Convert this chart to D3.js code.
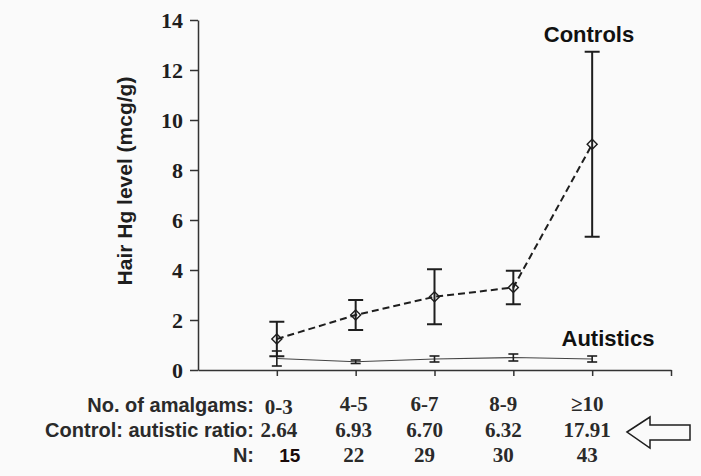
<!DOCTYPE html>
<html>
<head>
<meta charset="utf-8">
<script src="https://cdn.jsdelivr.net/npm/d3@7"></script>
<style>
  body { margin: 0; background: #fafafa; }
  svg { display: block; }
</style>
</head>
<body>
<svg id="chart"></svg>
<script>
// values
const categories = ["0-3", "4-5", "6-7", "8-9", "≥10"];
const controlMean = [1.24, 2.2, 2.93, 3.3, 9.03];
const controlErr = [0.69, 0.6, 1.1, 0.67, 3.7];
const autisticMean = [0.46, 0.33, 0.44, 0.5, 0.44];
const autisticErr = [0.3, 0.07, 0.12, 0.14, 0.12];
const ratios = ["2.64", "6.93", "6.70", "6.32", "17.91"];
const nValues = [15, 22, 29, 30, 43];
const yTicks = [0, 2, 4, 6, 8, 10, 12, 14];

const width = 701, height = 476;
const margin = { top: 20, right: 30, bottom: 106, left: 198 };
const ink = "#1e1e1e";

const svg = d3.select("#chart").attr("width", width).attr("height", height);

const x = d3.scaleLinear().domain([0, 6]).range([margin.left, width - margin.right]);
const y = d3.scaleLinear().domain([0, 14]).range([height - margin.bottom, margin.top]);

// axes
const yAxis = svg.append("g")
  .attr("transform", `translate(${margin.left},0)`)
  .call(d3.axisLeft(y).tickValues(yTicks).tickSize(8).tickSizeOuter(0).tickPadding(7));
yAxis.selectAll("text")
  .style("font-family", "'Liberation Serif', 'Times New Roman', serif")
  .style("font-weight", "bold")
  .style("font-size", "22px")
  .attr("dy", "0.36em")
  .attr("fill", ink);

const xAxis = svg.append("g")
  .attr("transform", `translate(0,${y(0)})`)
  .call(d3.axisBottom(x).tickValues([1, 2, 3, 4, 5, 6]).tickFormat("").tickSize(6).tickSizeOuter(0));

svg.selectAll(".domain, .tick line").attr("stroke", "#333").attr("stroke-width", 1.5);

svg.append("text")
  .attr("transform", `translate(132,${(y(0) + y(14)) / 2 - 14}) rotate(-90)`)
  .attr("text-anchor", "middle")
  .style("font-family", "'Liberation Sans', Arial, sans-serif")
  .style("font-weight", "bold")
  .style("font-size", "21px")
  .attr("fill", ink)
  .text("Hair Hg level (mcg/g)");

const idx = categories.map((c, i) => i + 1);

// autistics: thin solid line + small error bars
svg.append("path")
  .datum(idx)
  .attr("fill", "none")
  .attr("stroke", "#444")
  .attr("stroke-width", 1.2)
  .attr("d", d3.line().x(d => x(d)).y((d, i) => y(autisticMean[i])));

function errorBars(g, means, errs, capHalf, sw) {
  const bars = g.selectAll("g").data(idx).join("g");
  bars.append("line")
    .attr("x1", d => x(d)).attr("x2", d => x(d))
    .attr("y1", (d, i) => y(means[i] + errs[i]))
    .attr("y2", (d, i) => y(means[i] - errs[i]));
  bars.append("line")
    .attr("x1", d => x(d) - capHalf).attr("x2", d => x(d) + capHalf)
    .attr("y1", (d, i) => y(means[i] + errs[i]))
    .attr("y2", (d, i) => y(means[i] + errs[i]));
  bars.append("line")
    .attr("x1", d => x(d) - capHalf).attr("x2", d => x(d) + capHalf)
    .attr("y1", (d, i) => y(means[i] - errs[i]))
    .attr("y2", (d, i) => y(means[i] - errs[i]));
  g.attr("stroke", ink).attr("stroke-width", sw);
}

errorBars(svg.append("g"), autisticMean, autisticErr, 5, 1.6);

// controls: dashed line, open diamonds, error bars
svg.append("path")
  .datum(idx)
  .attr("fill", "none")
  .attr("stroke", ink)
  .attr("stroke-width", 2)
  .attr("stroke-dasharray", "7,4")
  .attr("d", d3.line().x(d => x(d)).y((d, i) => y(controlMean[i])));

errorBars(svg.append("g"), controlMean, controlErr, 7.5, 2);

svg.append("g").selectAll("path")
  .data(idx)
  .join("path")
  .attr("d", d3.symbol(d3.symbolSquare, 50))
  .attr("transform", (d, i) => `translate(${x(d)},${y(controlMean[i])}) rotate(45)`)
  .attr("fill", "none")
  .attr("stroke", ink)
  .attr("stroke-width", 1.4);

// series labels
const sans = "'Liberation Sans', Arial, sans-serif";
const serif = "'Liberation Serif', 'Times New Roman', serif";
svg.append("text").attr("x", 589).attr("y", 42).attr("text-anchor", "middle")
  .style("font-family", sans).style("font-weight", "bold").style("font-size", "22px")
  .attr("fill", "#111").text("Controls");
svg.append("text").attr("x", 608).attr("y", 346).attr("text-anchor", "middle")
  .style("font-family", sans).style("font-weight", "bold").style("font-size", "22px")
  .attr("fill", "#111").text("Autistics");

// table under the axis
const labelRight = 254;
const colNudge = [2, -2, -10, -10, -5];
const rows = [
  { label: "No. of amalgams:", values: categories, base: 412, valBase: [414, 411, 411, 411, 411] },
  { label: "Control: autistic ratio:", values: ratios, base: 437, valBase: [437, 437, 437, 437, 437] },
  { label: "N:", values: nValues, base: 462, valBase: [462, 462, 462, 462, 462] }
];

rows.forEach((r, ri) => {
  svg.append("text")
    .attr("x", labelRight).attr("y", r.base).attr("text-anchor", "end")
    .style("font-family", sans).style("font-weight", "bold").style("font-size", "20px")
    .attr("fill", "#2a2a2a").text(r.label);
  svg.append("g").selectAll("text")
    .data(r.values)
    .join("text")
    .attr("x", (d, i) => x(i + 1) + colNudge[i] + (ri === 2 && i === 0 ? 11 : 0))
    .attr("y", (d, i) => r.valBase[i])
    .attr("text-anchor", "middle")
    .style("font-family", (d, i) => (ri === 2 && i === 0) ? sans : serif)
    .style("font-weight", "bold")
    .style("font-size", (d, i) => (ri === 2 && i === 0) ? "19px" : "21px")
    .attr("fill", (d, i) => (ri === 2 && i === 0) ? "#1a0a0a" : "#2a2a2a")
    .text(d => d);
});

// hollow arrow pointing at the ratios
svg.append("path")
  .attr("d", "M627,432 L650,417 L650,425 L690,425 L690,440 L650,440 L650,448 Z")
  .attr("fill", "none")
  .attr("stroke", ink)
  .attr("stroke-width", 1.5)
  .attr("stroke-linejoin", "miter");
</script>
</body>
</html>
